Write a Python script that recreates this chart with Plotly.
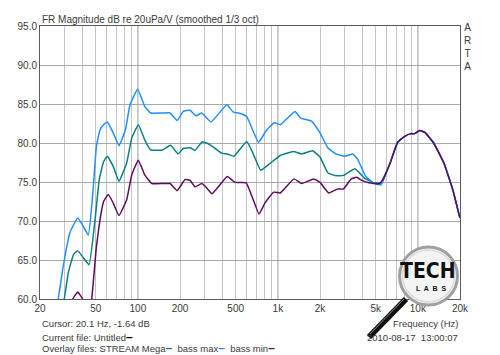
import plotly.graph_objects as go

# ---------------- data ----------------
tail_freq = [6325, 7170, 7960, 8930, 9460, 10290, 11230, 12970, 15370, 17770, 19700, 20000]
tail_db = [77.4, 80.1, 80.8, 81.2, 81.2, 81.6, 81.35, 80.0, 77.4, 74.0, 70.8, 70.4]

mega_freq = [27.5, 29.8, 31.9, 34.7, 37.2, 40.8, 44.8, 49.5, 53.0, 56.9, 60.5, 66.7, 73.3,
             83.1, 90.4, 100.8, 112, 123.6, 150, 171, 194, 211, 236, 256, 286, 310, 338,
             397, 436, 486, 599, 660, 755, 882, 1040, 1292, 1480, 1769, 2000, 2280, 2600,
             2940, 3560, 4150, 4830, 5400]
mega_db = [57.0, 60.0, 63.4, 65.7, 66.2, 65.3, 64.4, 70.2, 75.3, 77.6, 78.3, 77.0, 75.1,
           77.4, 80.6, 82.35, 80.4, 79.1, 79.1, 79.7, 78.6, 79.3, 79.4, 79.05, 80.1, 80.0, 79.6,
           78.7, 78.6, 78.3, 80.2, 78.8, 76.5, 77.4, 78.4, 78.9, 78.6, 79.0, 78.2, 76.15, 75.8,
           75.85, 76.7, 75.5, 74.9, 74.9]

max_freq = [25, 27, 29.3, 32.7, 37.2, 40.8, 44.3, 47.9, 50.6, 53.7, 57.3, 60.5, 66.7, 73.3,
            81.5, 87.9, 99.7, 112, 123.6, 150, 169.6, 191, 211, 236, 260, 286, 300, 333,
            432, 478, 547, 599, 727, 834, 943, 1040, 1326, 1455, 1739, 2000, 2280, 2600,
            3000, 3430, 3720, 4250, 4900, 5460]
max_db = [56.0, 60.0, 64.2, 68.5, 70.4, 69.3, 68.2, 74.0, 79.6, 81.7, 82.4, 82.7, 81.3, 79.65,
          81.7, 84.9, 86.9, 84.7, 83.85, 83.85, 83.85, 82.9, 84.05, 84.2, 83.5, 83.85, 83.5, 82.7,
          84.9, 84.0, 83.75, 83.4, 80.1, 81.7, 82.6, 82.35, 84.05, 83.2, 82.8, 81.3, 79.35, 78.6,
          78.3, 78.6, 77.9, 75.7, 74.8, 74.65]

min_freq = [33, 34.3, 37.2, 40.3, 43.5, 46.8, 50.6, 53.7, 56.9, 61.5, 66.7, 73.3, 83.1, 90.4,
            100.8, 112, 125.8, 151.8, 170, 191, 217, 236, 256, 286, 305, 338, 436, 493, 594,
            734, 808, 933, 1040, 1305, 1480, 1807, 2000, 2310, 2680, 2940, 3340, 3650, 3990,
            4470, 5320, 5640]
min_db = [58.0, 60.0, 60.9, 60.0, 57.0, 60.0, 66.75, 70.2, 72.5, 73.4, 72.3, 70.7, 72.7, 75.9,
          77.8, 75.9, 74.8, 74.8, 74.8, 73.9, 75.3, 75.2, 74.4, 74.8, 74.4, 73.5, 75.7, 74.95, 74.9,
          70.9, 72.3, 73.7, 73.6, 75.4, 74.8, 75.4, 74.95, 73.6, 74.1, 74.1, 75.4, 75.6, 75.2,
          74.9, 74.8, 75.3]

series_names = ["STREAM Mega", "bass max", "bass min"]
series_colors = ["#0b8080", "#1f8fff", "#5e0b5e"]

x_label_vals = [20, 50, 100, 200, 500, 1000, 2000, 5000, 10000, 20000]
x_label_text = ["20", "50", "100", "200", "500", "1k", "2k", "5k", "10k", "20k"]
x_minor_vals = [30, 40, 60, 70, 80, 90, 300, 400, 600, 700, 800, 900,
                3000, 4000, 6000, 7000, 8000, 9000]
decades = [100, 1000, 10000]
y_tick_vals = [60, 65, 70, 75, 80, 85, 90, 95]

# ---------------- figure ----------------
W, H = 500, 355
L, R, T, B = 40, 460, 26, 299


def px(xp):
    return (xp - L) / (R - L)


def py(yp):
    return (B - yp) / (B - T)


fig = go.Figure()
all_series = [(mega_freq, mega_db), (max_freq, max_db), (min_freq, min_db)]
for (f, d), name, col in zip(all_series, series_names, series_colors):
    fig.add_trace(go.Scatter(
        x=f + tail_freq, y=d + tail_db, mode="lines", name=name,
        line=dict(color=col, width=1.5, shape="spline", smoothing=0.35),
        hoverinfo="skip", showlegend=False))

font_main = "Liberation Sans, Arial, sans-serif"
txt_col = "#3a3a3a"
small = 9.5


def dash(color):
    return f"<span style='color:{color};font-size:12px'><b>–</b></span>"


fig.update_xaxes(
    type="log", range=[1.30103, 4.30103], automargin=False,
    tickvals=x_label_vals, ticktext=x_label_text,
    showgrid=True, gridcolor="#c4c4c4", gridwidth=1,
    minor=dict(tickvals=x_minor_vals, showgrid=True, gridcolor="#c4c4c4", gridwidth=1),
    showline=True, mirror=True, linecolor="#5a5a5a", linewidth=1,
    ticks="", zeroline=False,
    tickfont=dict(family=font_main, size=10, color=txt_col),
)
fig.update_yaxes(
    range=[60, 95], tickvals=y_tick_vals, tickformat=".1f", automargin=False,
    showgrid=True, gridcolor="#a8a8a8", gridwidth=1,
    showline=True, mirror=True, linecolor="#5a5a5a", linewidth=1,
    ticks="", zeroline=False,
    tickfont=dict(family=font_main, size=10, color=txt_col),
)

shapes = []
for dv in decades:
    shapes.append(dict(type="line", xref="x", yref="paper", x0=dv, x1=dv, y0=0, y1=1,
                       line=dict(color="#8e8e8e", width=1), layer="between"))

# magnifier logo
cx, cy, r = 428.5, 276, 29
shapes.append(dict(type="line", xref="paper", yref="paper",
                   x0=px(406), y0=py(299), x1=px(369), y1=py(337),
                   line=dict(color="#111111", width=6), layer="above"))
shapes.append(dict(type="line", xref="paper", yref="paper",
                   x0=px(404), y0=py(299), x1=px(370), y1=py(334),
                   line=dict(color="#8a8a8a", width=1), layer="above"))
shapes.append(dict(type="circle", xref="paper", yref="paper",
                   x0=px(cx - r), x1=px(cx + r), y0=py(cy + r), y1=py(cy - r),
                   fillcolor="#f4f4f4", line=dict(color="#a0a0a0", width=3), layer="above"))
shapes.append(dict(type="circle", xref="paper", yref="paper",
                   x0=px(cx - r + 3), x1=px(cx + r - 3), y0=py(cy + r - 3), y1=py(cy - r + 3),
                   fillcolor="rgba(0,0,0,0)", line=dict(color="#dcdcdc", width=1.5), layer="above"))

ann = []
ann.append(dict(text="FR Magnitude dB re 20uPa/V (smoothed 1/3 oct)", x=px(40), y=py(19),
                xref="paper", yref="paper", xanchor="left", yanchor="middle", showarrow=False,
                font=dict(family=font_main, size=10, color=txt_col)))
ann.append(dict(text="A<br>R<br>T<br>A", x=px(467), y=py(47), xref="paper", yref="paper",
                xanchor="center", yanchor="middle", showarrow=False,
                font=dict(family=font_main, size=10, color=txt_col)))
ann.append(dict(text="Cursor: 20.1 Hz, -1.64 dB", x=px(40), y=py(323),
                xref="paper", yref="paper", xanchor="left", yanchor="middle", showarrow=False,
                font=dict(family=font_main, size=small, color=txt_col)))
ann.append(dict(text="Current file: Untitled" + dash("#000000"), x=px(40), y=py(337),
                xref="paper", yref="paper", xanchor="left", yanchor="middle", showarrow=False,
                font=dict(family=font_main, size=small, color=txt_col)))
overlay = "Overlay files: " + "\u00a0 ".join(
    f"{n}{dash(c)}" for n, c in zip(series_names, series_colors))
ann.append(dict(text=overlay, x=px(40), y=py(348),
                xref="paper", yref="paper", xanchor="left", yanchor="middle", showarrow=False,
                font=dict(family=font_main, size=small, color=txt_col)))
ann.append(dict(text="Frequency (Hz)", x=px(460), y=py(323),
                xref="paper", yref="paper", xanchor="right", yanchor="middle", showarrow=False,
                font=dict(family=font_main, size=small, color=txt_col)))
ann.append(dict(text="2010-08-17  13:00:07", x=px(460), y=py(337),
                xref="paper", yref="paper", xanchor="right", yanchor="middle", showarrow=False,
                font=dict(family=font_main, size=small, color=txt_col)))
ann.append(dict(text="<b>TECH</b>", x=px(cx - 1), y=py(271),
                xref="paper", yref="paper", xanchor="center", yanchor="middle", showarrow=False,
                font=dict(family="Liberation Sans Narrow, DejaVu Sans Condensed, sans-serif",
                          size=21, color="#111111")))
ann.append(dict(text="<b>L  A  B  S</b>", x=px(cx + 2), y=py(288),
                xref="paper", yref="paper", xanchor="center", yanchor="middle", showarrow=False,
                font=dict(family=font_main, size=7, color="#111111")))

fig.update_layout(
    template="none",
    width=W, height=H,
    margin=dict(l=L, r=W - R, t=T, b=H - B, pad=0, autoexpand=False),
    paper_bgcolor="white", plot_bgcolor="white",
    shapes=shapes, annotations=ann, showlegend=False,
)

fig.write_html(
    "out.html",
    config={"displayModeBar": False, "staticPlot": True},
    post_script="document.body.style.margin='0';document.body.style.overflow='hidden';",
)
